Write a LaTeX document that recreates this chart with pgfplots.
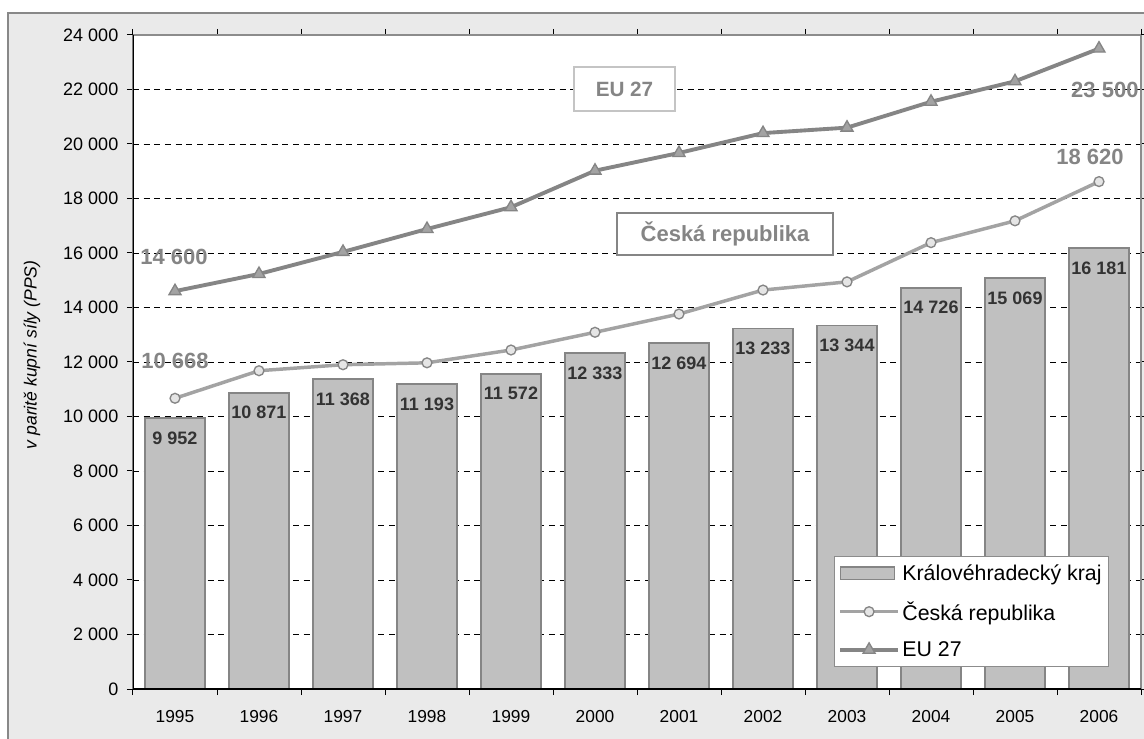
\documentclass[border=0pt]{standalone}
\usepackage{pgfplots}
\pgfplotsset{compat=1.18}
\usepackage{pgfplotstable}
\usepackage{fontspec}
\setmainfont{Liberation Sans}
\definecolor{bgc}{HTML}{EAEAEA}
\definecolor{framec}{HTML}{888888}
\definecolor{axgray}{HTML}{8C8C8C}
\definecolor{barc}{HTML}{C0C0C0}
\definecolor{edgec}{HTML}{858585}
\definecolor{crc}{HTML}{A3A3A3}
\definecolor{euc}{HTML}{858585}
\definecolor{labc}{HTML}{333333}
\definecolor{annc}{HTML}{858585}
\definecolor{boxc}{HTML}{C4C4C4}

\pgfplotsset{
  linelegend/.style={legend image code/.code={\draw[##1, mark=none] (0pt,0pt) -- (43pt,0pt); \draw[##1] plot coordinates {(21.5pt,0pt)};}},
  barlegend/.style={legend image code/.code={\draw[fill=barc, draw=edgec, line width=1.2pt] (0pt,-4.8pt) rectangle (40.5pt,4.8pt);}},
}

\pgfplotstableread{
x y
0 9952
1 10871
2 11368
3 11193
4 11572
5 12333
6 12694
7 13233
8 13344
9 14726
10 15069
11 16181
}\krajdata
\pgfplotstableread{
x y
0 10668
1 11680
2 11900
3 11970
4 12440
5 13090
6 13760
7 14640
8 14940
9 16380
10 17180
11 18620
}\crdata
\pgfplotstableread{
x y
0 14600
1 15230
2 16040
3 16880
4 17680
5 19020
6 19670
7 20400
8 20600
9 21550
10 22300
11 23500
}\eudata

\begin{document}
\begin{tikzpicture}
\useasboundingbox (-99.75pt,-36.75pt) rectangle (758.25pt,516.75pt);
\fill[bgc] (-93.75pt,-60pt) rectangle (780pt,507pt);
\draw[framec, line width=1.5pt] (-93.75pt,-60pt) rectangle (780pt,507pt);
\begin{axis}[
  at={(0pt,0pt)}, anchor=south west,
  scale only axis, width=756pt, height=490.5pt,
  xmin=-0.5, xmax=11.5, ymin=0, ymax=24000,
  axis background/.style={fill=white},
  axis line style={draw=axgray, line width=1pt},
  xtick={0,...,11},
  xticklabels={1995,1996,1997,1998,1999,2000,2001,2002,2003,2004,2005,2006},
  major x tick style={draw=none},
  minor xtick={-0.5,0.5,1.5,2.5,3.5,4.5,5.5,6.5,7.5,8.5,9.5,10.5,11.5},
  minor x tick style={black, line width=0.75pt},
  ytick={2000,4000,...,22000},
  extra y ticks={0,24000},
  extra y tick style={grid=none},
  scaled y ticks=false,
  y tick style={black, line width=0.75pt},
  tick align=outside,
  major tick length=4.5pt, minor tick length=4.5pt,
  ymajorgrids,
  grid style={black, dash pattern=on 4.5pt off 3.5pt, line width=0.6pt},
  /pgf/number format/.cd, 1000 sep={\ }, assume math mode=true, /pgfplots/.cd,
  ticklabel style={text=black},
  yticklabel style={xshift=-3pt, font=\fontsize{13.5}{15}\selectfont},
  xticklabel style={yshift=-8pt, font=\fontsize{13}{15}\selectfont},
  ylabel={v paritě kupní síly (PPS)},
  ylabel style={at={(axis description cs:-0.1002,0.511)}, anchor=center,
    font=\itshape\fontsize{13.2}{15}\selectfont},
  legend style={at={(axis description cs:0.968,0.034)}, anchor=south east,
    draw=axgray, line width=0.8pt, fill=white,
    font=\fontsize{16}{18}\selectfont,
    inner xsep=3pt, inner ysep=4pt, row sep=10.5pt,
    /tikz/every even column/.append style={column sep=1pt}},
  legend cell align=left,
]
\addplot[ybar, bar width=0.72, fill=barc, draw=edgec, line width=1.3pt,
  barlegend,
  nodes near coords,
  every node near coord/.append style={font=\bfseries\fontsize{13.5}{15}\selectfont, text=labc, anchor=center, yshift=-15pt}
] table[x=x,y=y] {\krajdata};
\addlegendentry{Královéhradecký kraj}
\addplot[color=crc, line width=2.6pt, mark=*, mark size=3.7pt,
  mark options={solid, fill=white!90!black, draw=euc, line width=1pt},
  linelegend
] table[x=x,y=y] {\crdata};
\addlegendentry{Česká republika}
\addplot[color=euc, line width=2.9pt, mark=triangle*, mark size=5.2pt,
  mark options={solid, fill=barc!85!black, draw=euc, line width=1pt},
  linelegend
] table[x=x,y=y] {\eudata};
\addlegendentry{EU 27}
\draw[black, line width=1pt] (rel axis cs:0,1) -- (rel axis cs:0,0) -- (rel axis cs:1,0);
\node[font=\bfseries\fontsize{16.5}{18}\selectfont, text=annc] at (axis cs:-0.012,15853) {14 600};
\node[font=\bfseries\fontsize{16.5}{18}\selectfont, text=annc] at (axis cs:0.0,12037) {10 668};
\node[font=\bfseries\fontsize{16.5}{18}\selectfont, text=annc] at (axis cs:10.893,19523) {18 620};
\node[font=\bfseries\fontsize{16.5}{18}\selectfont, text=annc] at (axis cs:11.07,21982) {23 500};
\node[draw=boxc, line width=1.2pt, fill=white, minimum width=75.75pt, minimum height=33pt,
  font=\bfseries\fontsize{15.5}{17}\selectfont, text=annc] at (axis cs:5.351,22018) {EU 27};
\node[draw=euc, line width=1.2pt, fill=white, minimum width=162pt, minimum height=31.5pt,
  font=\bfseries\fontsize{16.5}{18}\selectfont, text=annc] at (axis cs:6.548,16697) {Česká republika};
\end{axis}
\end{tikzpicture}
\end{document}
